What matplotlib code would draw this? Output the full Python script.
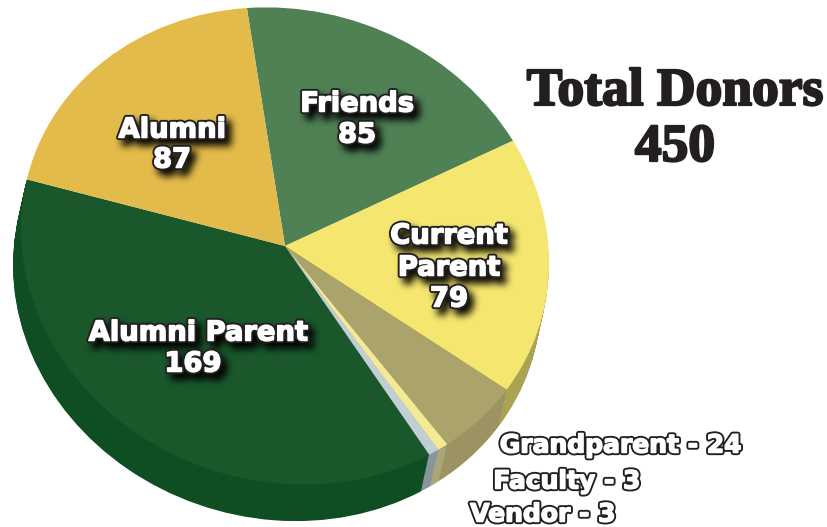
import matplotlib
matplotlib.use("Agg")
import matplotlib.pyplot as plt
import matplotlib.patheffects as pe
from matplotlib.transforms import Affine2D
import numpy as np

categories = ["Friends", "Current Parent", "Grandparent", "Faculty", "Vendor", "Alumni Parent", "Alumni"]
values = [85, 79, 24, 3, 3, 169, 87]
top_colors = ["#4f8155", "#f5e66f", "#aaa46c", "#f4ea96", "#c2ced6", "#1a582c", "#e3bb4b"]
side_colors = ["#ffffff", "#aaa452", "#9b9462", "#aaa578", "#8a949c", "#0f4d22", "#ffffff"]

W, H = 828, 527
CX, CY, RX, RY = 285, 246, 264, 238
SHIFT_X, SHIFT_Y = -8, 37
TILT = 0.065
START = 98.3

fig = plt.figure(figsize=(W / 100, H / 100), dpi=100, facecolor="white")
ax = fig.add_axes([0, 0, 1, 1])
tilt = Affine2D.from_values(1, -TILT * RX / RY, 0, 1, 0, 0)


def draw_pie(colors, center):
    wedges, _ = ax.pie(values, colors=colors, startangle=START, counterclock=False,
                       radius=1, center=center, wedgeprops=dict(linewidth=0))
    return wedges


all_wedges = []
for t in np.linspace(1, 0.03, 40):
    all_wedges += draw_pie(side_colors, (t * SHIFT_X / RX, -t * SHIFT_Y / RY))
all_wedges += draw_pie(top_colors, (0, 0))

ax.set_aspect("auto")
ax.set_xlim(-CX / RX, (W - CX) / RX)
ax.set_ylim(-(H - CY) / RY, CY / RY)
ax.axis("off")
for w in all_wedges:
    w.set_transform(tilt + ax.transData)


def blur_filter(image, dpi, pad=24, passes=3, size=7, strength=0.95, dx=5, dy=-6):
    a = np.pad(image[:, :, 3], pad)
    kernel = np.ones(size) / size
    for _ in range(passes):
        a = np.apply_along_axis(lambda r: np.convolve(r, kernel, mode="same"), 0, a)
        a = np.apply_along_axis(lambda r: np.convolve(r, kernel, mode="same"), 1, a)
    out = np.zeros(a.shape + (4,))
    out[:, :, 3] = np.clip(a * strength, 0, 1)
    return out, -pad + dx, -pad + dy


def label(x, y, s, size=19.7, with_shadow=True):
    xf, yf = x / W, 1 - (y + 2.5) / H
    if with_shadow:
        sh = fig.text(xf, yf, s, ha="center", va="center", color="black",
                      fontsize=size, family="DejaVu Sans", fontweight="bold",
                      path_effects=[pe.withStroke(linewidth=4, foreground="black")])
        sh.set_agg_filter(blur_filter)
    fx = [pe.withStroke(linewidth=3.8, foreground="#231f20"),
          pe.withStroke(linewidth=1.1, foreground="white")]
    fig.text(xf, yf, s, ha="center", va="center", color="white",
             fontsize=size, family="DejaVu Sans", fontweight="bold", path_effects=fx)


label(357, 102, "Friends")
label(357, 133, "85")
label(172, 128, "Alumni")
label(172, 158, "87")
label(449, 234, "Current")
label(449, 266, "Parent")
label(449, 297, "79")
label(198, 331, "Alumni Parent")
label(193, 362, "169")
label(621, 443, "Grandparent - 24", size=18, with_shadow=False)
label(567, 479, "Faculty - 3", size=18, with_shadow=False)
label(543, 512, "Vendor - 3", size=18, with_shadow=False)

for y, s in [(92, "Total Donors"), (148, "450")]:
    fig.text(675 / W, 1 - y / H, s, ha="center", va="center", color="#231f20",
             fontsize=38.5, family="Liberation Serif", fontweight="bold",
             path_effects=[pe.withStroke(linewidth=1.6, foreground="#231f20")])

fig.savefig("out.png", dpi=100, facecolor="white")
